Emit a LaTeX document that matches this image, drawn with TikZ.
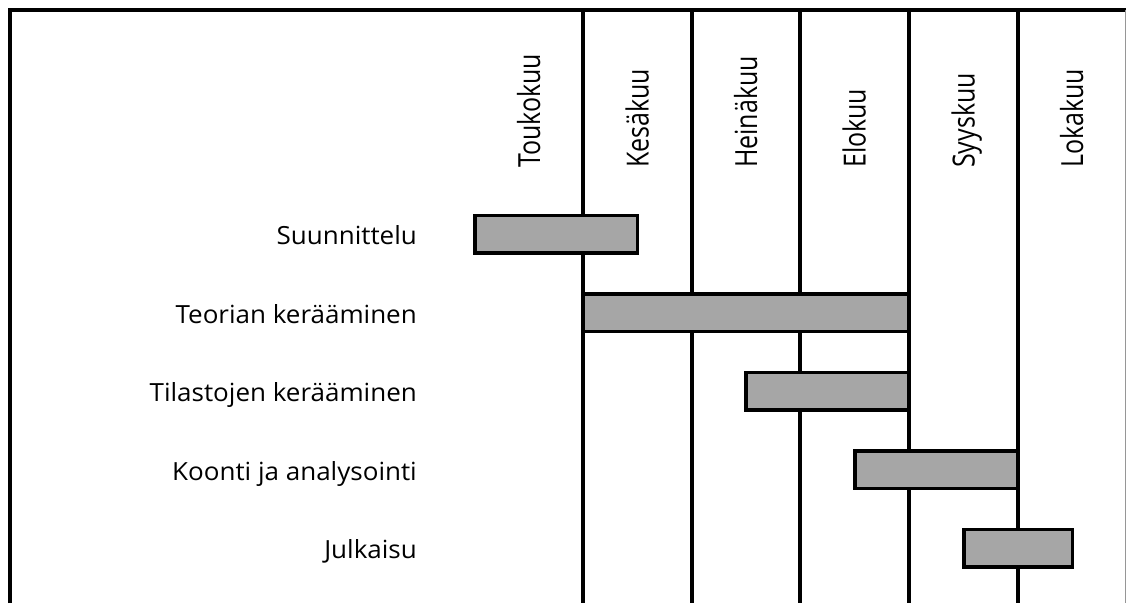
\documentclass[tikz,border=0pt]{standalone}
\usepackage{fontspec}
\setmainfont{Open Sans}
\usepackage{graphicx}
\definecolor{barfill}{RGB}{166,166,166}
\definecolor{edgegray}{RGB}{150,150,150}
\tikzset{
  gridline/.style={line width=3.5pt, black},
  taskbar/.style={draw=black, line width=3.5pt, fill=barfill},
  rowlabel/.style={anchor=base east, inner sep=0pt, font=\fontsize{25}{30}\selectfont},
  monthlabel/.style={anchor=base west, rotate=90, inner sep=0pt, font=\fontsize{25}{30}\selectfont},
}
\newcommand{\mlab}[1]{\scalebox{1}[1.22]{#1}}
\newcommand{\rlab}[1]{\scalebox{1.04}[1]{#1}}
\begin{document}
\begin{tikzpicture}[x=1pt,y=-1pt]
\useasboundingbox (0,0) rectangle (1126,603);
% frame
\draw[gridline] (10,603) -- (10,10) -- (1126,10);
\draw[edgegray, line width=1pt] (1125,10) -- (1125,603);
% vertical month lines
\foreach \x in {583,692,800,909,1018}
  \draw[gridline] (\x,10) -- (\x,603);
% month labels
\node[monthlabel] (m1) at (540,168) {\mlab{Toukokuu}};
\node[monthlabel] (m2) at (648.5,168) {\mlab{Kesäkuu}};
\node[monthlabel] (m3) at (757,168) {\mlab{Heinäkuu}};
\node[monthlabel] (m4) at (865.5,168) {\mlab{Elokuu}};
\node[monthlabel] (m5) at (974.5,168) {\mlab{Syyskuu}};
\node[monthlabel] (m6) at (1083,168) {\mlab{Lokakuu}};
% bars
\draw[taskbar] (475,215.25) rectangle (637.5,252.75);
\draw[taskbar] (583,293.75) rectangle (909,331.25);
\draw[taskbar] (746,372.25) rectangle (909,409.75);
\draw[taskbar] (855,450.75) rectangle (1018,488.25);
\draw[taskbar] (964,529.25) rectangle (1072.5,566.75);
% row labels
\node[rowlabel] (r1) at (417,244.5) {\rlab{Suunnittelu}};
\node[rowlabel] (r2) at (417,323) {\rlab{Teorian kerääminen}};
\node[rowlabel] (r3) at (417,401.5) {\rlab{Tilastojen kerääminen}};
\node[rowlabel] (r4) at (417,480) {\rlab{Koonti ja analysointi}};
\node[rowlabel] (r5) at (417,558.5) {\rlab{Julkaisu}};
\end{tikzpicture}
\end{document}
